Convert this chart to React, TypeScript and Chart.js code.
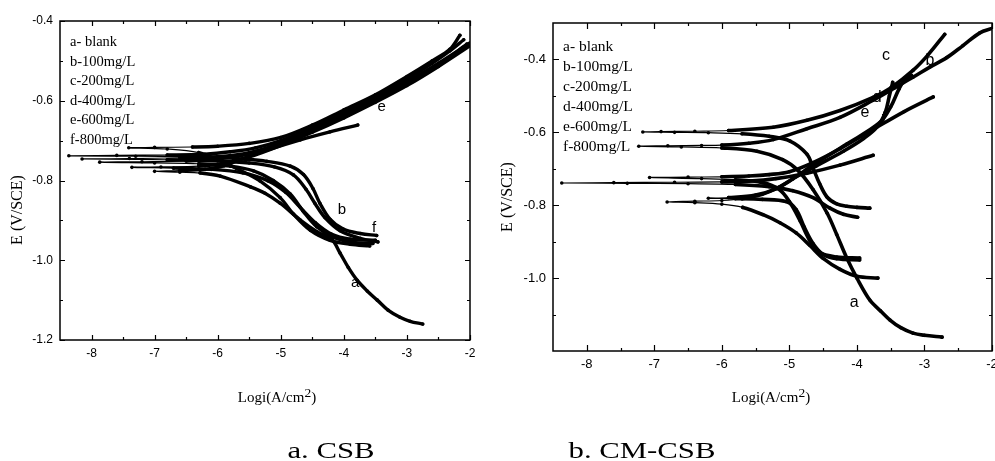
import React, { useEffect, useRef } from 'react';
import { Chart, registerables } from 'chart.js';

Chart.register(...registerables);

type Pt = [number, number];

// ---------- Panel a: CSB ----------
const csbA: Pt[] = [
  [-2.75, -1.160], [-2.95, -1.153], [-3.11, -1.143], [-3.3, -1.125], [-3.47, -1.100], [-3.63, -1.077],
  [-3.79, -1.050], [-3.93, -1.018], [-4.06, -0.982], [-4.19, -0.948], [-4.42, -0.929], [-4.69, -0.899],
  [-5.01, -0.857], [-5.25, -0.832], [-5.48, -0.816], [-5.96, -0.789], [-6.28, -0.781], [-6.6, -0.779],
  [-7.0, -0.777], [-6.6, -0.775], [-6.2, -0.772], [-5.9, -0.763], [-5.6, -0.745], [-5.22, -0.724],
  [-4.69, -0.698], [-4.22, -0.678], [-3.78, -0.661],
];
const csbB: Pt[] = [
  [-3.48, -0.938], [-3.74, -0.933], [-4.01, -0.922], [-4.22, -0.897], [-4.38, -0.857], [-4.49, -0.820],
  [-4.64, -0.785], [-4.85, -0.764], [-5.22, -0.752], [-5.6, -0.746], [-6.0, -0.742], [-6.5, -0.740],
  [-7.3, -0.739], [-8.36, -0.738], [-7.6, -0.737], [-6.8, -0.736], [-6.2, -0.734], [-5.8, -0.728],
  [-5.4, -0.718], [-5.0, -0.700], [-4.5, -0.668], [-4.0, -0.630], [-3.5, -0.590], [-3.0, -0.546],
  [-2.6, -0.506], [-2.32, -0.475], [-2.1, -0.447],
];
const csbC: Pt[] = [
  [-3.46, -0.954], [-3.74, -0.945], [-4.06, -0.926], [-4.3, -0.893], [-4.46, -0.857], [-4.6, -0.822],
  [-4.8, -0.786], [-5.1, -0.766], [-5.5, -0.756], [-6.0, -0.751], [-6.8, -0.748], [-8.15, -0.746],
  [-7.4, -0.745], [-6.6, -0.743], [-6.0, -0.740], [-5.5, -0.730], [-5.0, -0.706], [-4.5, -0.673],
  [-4.0, -0.636], [-3.5, -0.597], [-3.0, -0.553], [-2.5, -0.506], [-2.0, -0.455],
];
const csbD: Pt[] = [
  [-3.54, -0.958], [-3.85, -0.955], [-4.17, -0.942], [-4.43, -0.916], [-4.65, -0.876], [-4.85, -0.834],
  [-5.12, -0.800], [-5.43, -0.776], [-5.8, -0.764], [-6.3, -0.758], [-7.0, -0.756], [-7.87, -0.754],
  [-7.2, -0.753], [-6.5, -0.751], [-6.0, -0.746], [-5.5, -0.733], [-5.0, -0.709], [-4.5, -0.676],
  [-4.0, -0.640], [-3.5, -0.601], [-3.0, -0.559], [-2.5, -0.511], [-2.05, -0.458],
];
const csbE: Pt[] = [
  [-3.59, -0.964], [-3.9, -0.960], [-4.22, -0.950], [-4.53, -0.925], [-4.8, -0.884], [-5.01, -0.843],
  [-5.33, -0.801], [-5.7, -0.770], [-6.0, -0.748], [-6.3, -0.730], [-6.8, -0.721], [-7.41, -0.718],
  [-7.0, -0.717], [-6.4, -0.716], [-6.0, -0.714], [-5.5, -0.707], [-5.0, -0.692], [-4.5, -0.661],
  [-4.0, -0.623], [-3.5, -0.585], [-3.0, -0.539], [-2.6, -0.500], [-2.32, -0.471], [-2.16, -0.436],
];
const csbF: Pt[] = [
  [-3.5, -0.950], [-3.9, -0.947], [-4.2, -0.934], [-4.45, -0.906], [-4.7, -0.866], [-4.92, -0.830],
  [-5.2, -0.801], [-5.6, -0.781], [-6.1, -0.772], [-6.7, -0.769], [-7.36, -0.767], [-6.9, -0.766],
  [-6.3, -0.764], [-5.9, -0.757], [-5.5, -0.741], [-5.0, -0.712], [-4.5, -0.679], [-4.0, -0.643],
  [-3.5, -0.604], [-3.0, -0.562], [-2.5, -0.514], [-2.0, -0.462],
];

// ---------- Panel b: CM-CSB ----------
const cmA: Pt[] = [
  [-2.74, -1.162], [-3.0, -1.157], [-3.17, -1.151], [-3.35, -1.136], [-3.51, -1.115], [-3.65, -1.090],
  [-3.81, -1.060], [-4.0, -1.000], [-4.15, -0.945], [-4.3, -0.880], [-4.44, -0.822], [-4.65, -0.757],
  [-4.87, -0.705], [-5.1, -0.675], [-5.48, -0.652], [-6.0, -0.643], [-6.6, -0.640], [-7.23, -0.638],
  [-6.8, -0.637], [-6.3, -0.636], [-6.0, -0.635], [-5.6, -0.630], [-5.24, -0.620], [-4.74, -0.590],
  [-4.25, -0.559], [-3.76, -0.512], [-3.45, -0.479], [-3.17, -0.449], [-2.92, -0.421], [-2.67, -0.395],
  [-2.43, -0.362], [-2.18, -0.327], [-2.0, -0.315],
];
const cmB: Pt[] = [
  [-3.99, -0.833], [-4.2, -0.825], [-4.4, -0.808], [-4.65, -0.779], [-4.95, -0.760], [-5.3, -0.749],
  [-5.8, -0.743], [-6.5, -0.741], [-7.4, -0.740], [-8.37, -0.739], [-7.6, -0.738], [-6.7, -0.737],
  [-6.0, -0.736], [-5.6, -0.734], [-5.2, -0.727], [-4.74, -0.712], [-4.25, -0.690], [-3.76, -0.663],
];
const cmC: Pt[] = [
  [-3.81, -0.808], [-4.0, -0.806], [-4.15, -0.803], [-4.3, -0.796], [-4.44, -0.778], [-4.55, -0.742],
  [-4.65, -0.698], [-4.74, -0.660], [-4.99, -0.624], [-5.3, -0.611], [-5.7, -0.604], [-6.2, -0.601],
  [-6.7, -0.600], [-7.17, -0.599], [-6.9, -0.598], [-6.4, -0.597], [-5.9, -0.595], [-5.24, -0.586],
  [-4.74, -0.567], [-4.25, -0.540], [-3.76, -0.504], [-3.5, -0.478], [-3.17, -0.430], [-2.95, -0.388],
  [-2.7, -0.331],
];
const cmD: Pt[] = [
  [-3.69, -1.000], [-4.0, -0.995], [-4.25, -0.976], [-4.5, -0.946], [-4.7, -0.910], [-4.9, -0.876],
  [-5.14, -0.848], [-5.39, -0.826], [-5.69, -0.806], [-6.0, -0.797], [-6.4, -0.793], [-6.81, -0.791],
  [-6.4, -0.789], [-6.0, -0.787], [-5.7, -0.782], [-5.4, -0.770], [-5.15, -0.750], [-4.9, -0.722],
  [-4.6, -0.692], [-4.2, -0.652], [-3.9, -0.617], [-3.7, -0.585], [-3.58, -0.545], [-3.52, -0.500],
  [-3.47, -0.463],
];
const cmE: Pt[] = [
  [-3.96, -0.950], [-4.3, -0.947], [-4.5, -0.935], [-4.65, -0.905], [-4.78, -0.860], [-4.9, -0.812],
  [-5.05, -0.790], [-5.4, -0.784], [-5.8, -0.782], [-6.2, -0.781], [-5.9, -0.779], [-5.5, -0.772],
  [-5.2, -0.755], [-4.95, -0.728], [-4.65, -0.690], [-4.15, -0.632], [-3.66, -0.573], [-3.5, -0.530],
  [-3.38, -0.482], [-3.3, -0.458], [-3.19, -0.444],
];
const cmF: Pt[] = [
  [-3.96, -0.945], [-4.3, -0.942], [-4.55, -0.930], [-4.7, -0.896], [-4.84, -0.843], [-5.0, -0.790],
  [-5.15, -0.757], [-5.4, -0.738], [-5.8, -0.730], [-6.3, -0.727], [-7.07, -0.724], [-6.5, -0.723],
  [-6.0, -0.722], [-5.6, -0.720], [-5.3, -0.716], [-5.0, -0.708], [-4.65, -0.683], [-4.25, -0.645],
  [-3.76, -0.592], [-3.3, -0.543], [-2.87, -0.503],
];

// ---------- Text ----------
const curveNames = ['a', 'b', 'c', 'd', 'e', 'f'];
const legendLabels = ['a- blank', 'b-100mg/L', 'c-200mg/L', 'd-400mg/L', 'e-600mg/L', 'f-800mg/L'];
const yAxisTitle = 'E (V/SCE)';
const xAxisTitleMain = 'Logi(A/cm';
const xAxisTitleSup = '2';
const xAxisTitleEnd = ')';
const captions = ['a. CSB', 'b. CM-CSB'];

interface Tag { text: string; x: number; y: number }
const csbTags: Tag[] = [
  { text: 'e', x: -3.40, y: -0.616 },
  { text: 'b', x: -4.03, y: -0.874 },
  { text: 'f', x: -3.52, y: -0.919 },
  { text: 'a', x: -3.82, y: -1.057 },
];
const cmTags: Tag[] = [
  { text: 'c', x: -3.57, y: -0.390 },
  { text: 'b', x: -2.92, y: -0.403 },
  { text: 'd', x: -3.70, y: -0.504 },
  { text: 'e', x: -3.88, y: -0.545 },
  { text: 'f', x: -3.60, y: -0.562 },
  { text: 'a', x: -4.04, y: -1.066 },
];

const csbCurves = [csbA, csbB, csbC, csbD, csbE, csbF];
const cmCurves = [cmA, cmB, cmC, cmD, cmE, cmF];

const SERIF = '"Liberation Serif", "Times New Roman", serif';
const SANS = '"Liberation Sans", Arial, sans-serif';

interface PanelCfg {
  left: number; width: number; height: number;
  curves: Pt[][]; tags: Tag[];
  xMin: number; xMax: number; yMin: number; yMax: number;
  padTop: number; padRight: number; yW: number; xH: number;
  tickSize: number; xPad: number; yPad: number;
  legendX: number; legendY0: number; legendDy: number; legendSize: number;
  tagSize: number; yTitleX: number; yTitleY: number; yTitleSize: number;
  tailX: number; lineW: number; majorLen: number; minorLen: number;
}

const decoPlugin = {
  id: 'deco',
  beforeDatasetsDraw(chart: any, _args: any, o: any) {
    const { ctx, scales } = chart;
    const xs = scales.x, ys = scales.y;
    ctx.save();
    ctx.fillStyle = '#000';
    ctx.font = `${o.legendSize}px ${SERIF}`;
    ctx.textAlign = 'left';
    ctx.textBaseline = 'alphabetic';
    legendLabels.forEach((t, i) => ctx.fillText(t, o.legendX, o.legendY0 + i * o.legendDy));
    ctx.font = `${o.tagSize}px ${SANS}`;
    ctx.textAlign = 'center';
    ctx.textBaseline = 'middle';
    (o.tags as Tag[]).forEach((t) => ctx.fillText(t.text, xs.getPixelForValue(t.x), ys.getPixelForValue(t.y)));
    ctx.translate(o.yTitleX, o.yTitleY);
    ctx.rotate(-Math.PI / 2);
    ctx.font = `${o.yTitleSize}px ${SERIF}`;
    ctx.fillText(yAxisTitle, 0, 0);
    ctx.restore();
  },
  afterDraw(chart: any, _args: any, o: any) {
    const { ctx, chartArea: a, scales } = chart;
    const xs = scales.x, ys = scales.y;
    ctx.save();
    ctx.strokeStyle = '#000';
    ctx.lineWidth = 1.5;
    ctx.strokeRect(a.left, a.top, a.right - a.left, a.bottom - a.top);
    const minors = (vals: number[], min: number, max: number) => {
      const out: number[] = [];
      const step = vals[1] - vals[0];
      vals.forEach((v) => {
        [v - step / 2, v + step / 2].forEach((m) => {
          if (m > min + 1e-9 && m < max - 1e-9 && !out.some((q) => Math.abs(q - m) < 1e-9)) out.push(m);
        });
      });
      return out;
    };
    const xMaj = xs.ticks.map((t: any) => t.value);
    const yMaj = ys.ticks.map((t: any) => t.value);
    const xMin = minors(xMaj, xs.min, xs.max);
    const yMin = minors(yMaj, ys.min, ys.max);
    ctx.lineWidth = 1.2;
    ctx.beginPath();
    const tx = (v: number, len: number) => {
      const p = Math.round(xs.getPixelForValue(v)) + 0.5;
      ctx.moveTo(p, a.bottom); ctx.lineTo(p, a.bottom - len);
      ctx.moveTo(p, a.top); ctx.lineTo(p, a.top + len);
    };
    const ty = (v: number, len: number) => {
      const p = Math.round(ys.getPixelForValue(v)) + 0.5;
      ctx.moveTo(a.left, p); ctx.lineTo(a.left + len, p);
      ctx.moveTo(a.right, p); ctx.lineTo(a.right - len, p);
    };
    xMaj.forEach((v: number) => tx(v, o.majorLen));
    xMin.forEach((v: number) => tx(v, o.minorLen));
    yMaj.forEach((v: number) => ty(v, o.majorLen));
    yMin.forEach((v: number) => ty(v, o.minorLen));
    ctx.stroke();
    ctx.restore();
  },
};

function Panel({ cfg }: { cfg: PanelCfg }) {
  const ref = useRef<HTMLCanvasElement>(null);
  useEffect(() => {
    const canvas = ref.current!;
    const chart = new Chart(canvas, {
      type: 'scatter',
      data: {
        datasets: cfg.curves.map((pts, i) => ({
          label: curveNames[i],
          data: pts.map(([x, y]) => ({ x, y })),
          showLine: true,
          borderColor: '#000',
          backgroundColor: '#000',
          pointBackgroundColor: '#000',
          pointBorderWidth: 0,
          pointRadius: 1.8,
          pointHoverRadius: 1.8,
          borderWidth: cfg.lineW,
          tension: 0.35,
          borderCapStyle: 'round',
          borderJoinStyle: 'round',
          segment: {
            borderWidth: (s: any) =>
              Math.max(s.p0.parsed.x, s.p1.parsed.x) < cfg.tailX ? 1.2 : cfg.lineW,
          },
        })),
      },
      options: {
        animation: false,
        responsive: false,
        devicePixelRatio: 1,
        events: [],
        layout: { padding: { left: 0, top: cfg.padTop, right: cfg.padRight, bottom: 0 } },
        plugins: {
          legend: { display: false },
          tooltip: { enabled: false },
          deco: {
            tags: cfg.tags, legendX: cfg.legendX, legendY0: cfg.legendY0, legendDy: cfg.legendDy,
            legendSize: cfg.legendSize, tagSize: cfg.tagSize, yTitleX: cfg.yTitleX, yTitleY: cfg.yTitleY,
            yTitleSize: cfg.yTitleSize, majorLen: cfg.majorLen, minorLen: cfg.minorLen,
          },
        } as any,
        scales: {
          x: {
            type: 'linear',
            min: cfg.xMin,
            max: cfg.xMax,
            grid: { display: false, drawTicks: false },
            border: { display: false },
            ticks: {
              stepSize: 1,
              includeBounds: false,
              padding: cfg.xPad,
              color: '#000',
              font: { family: SANS, size: cfg.tickSize },
              maxRotation: 0,
              autoSkip: false,
              callback: (v: any) => String(Math.round(Number(v))),
            },
            afterFit: (s: any) => { s.height = cfg.xH; s.paddingLeft = 0; s.paddingRight = 0; },
          },
          y: {
            type: 'linear',
            min: cfg.yMin,
            max: cfg.yMax,
            grid: { display: false, drawTicks: false },
            border: { display: false },
            ticks: {
              stepSize: 0.2,
              includeBounds: false,
              padding: cfg.yPad,
              color: '#000',
              font: { family: SANS, size: cfg.tickSize },
              autoSkip: false,
              callback: (v: any) => Number(v).toFixed(1),
            },
            afterFit: (s: any) => { s.width = cfg.yW; s.paddingTop = 0; s.paddingBottom = 0; },
          },
        },
      } as any,
      plugins: [decoPlugin as any],
    });
    return () => chart.destroy();
  }, []);
  return (
    <canvas
      ref={ref}
      width={cfg.width}
      height={cfg.height}
      style={{ position: 'absolute', left: cfg.left, top: 0, width: cfg.width, height: cfg.height, display: 'block' }}
    />
  );
}

const leftCfg: PanelCfg = {
  left: 0, width: 480, height: 461, curves: csbCurves, tags: csbTags,
  xMin: -8.5, xMax: -2, yMin: -1.2, yMax: -0.4,
  padTop: 21, padRight: 10, yW: 60, xH: 121,
  tickSize: 12, xPad: 6, yPad: 7,
  legendX: 70, legendY0: 46, legendDy: 19.5, legendSize: 14.5,
  tagSize: 15, yTitleX: 18, yTitleY: 210, yTitleSize: 16,
  tailX: -6.2, lineW: 3.4, majorLen: 5, minorLen: 3,
};

const rightCfg: PanelCfg = {
  left: 480, width: 515, height: 461, curves: cmCurves, tags: cmTags,
  xMin: -8.5, xMax: -2, yMin: -1.2, yMax: -0.3,
  padTop: 23, padRight: 3, yW: 73, xH: 110,
  tickSize: 13, xPad: 6, yPad: 7,
  legendX: 83, legendY0: 51, legendDy: 20, legendSize: 15.5,
  tagSize: 16, yTitleX: 28, yTitleY: 197, yTitleSize: 16,
  tailX: -5.6, lineW: 3.6, majorLen: 6, minorLen: 3,
};

const xTitleStyle = (cx: number): React.CSSProperties => ({
  position: 'absolute', left: cx, top: 390, transform: 'translateX(-50%)',
  fontFamily: SERIF, fontSize: 15, lineHeight: '15px', whiteSpace: 'nowrap', color: '#000',
});

const captionStyle = (cx: number): React.CSSProperties => ({
  position: 'absolute', left: cx, top: 438, transform: 'translateX(-50%) scaleX(1.28)',
  fontFamily: SERIF, fontSize: 24, lineHeight: '24px', whiteSpace: 'nowrap', color: '#000',
});

export default function App() {
  return (
    <div style={{ position: 'absolute', left: 0, top: 0, width: 995, height: 461, background: '#fff', overflow: 'hidden' }}>
      <Panel cfg={leftCfg} />
      <Panel cfg={rightCfg} />
      {[277, 771].map((cx, i) => (
        <div key={'xt' + i} style={xTitleStyle(cx)}>
          {xAxisTitleMain}
          <span style={{ fontSize: '0.9em', position: 'relative', top: -5 }}>{xAxisTitleSup}</span>
          {xAxisTitleEnd}
        </div>
      ))}
      <div style={captionStyle(331)}>{captions[0]}</div>
      <div style={captionStyle(642)}>{captions[1]}</div>
    </div>
  );
}
